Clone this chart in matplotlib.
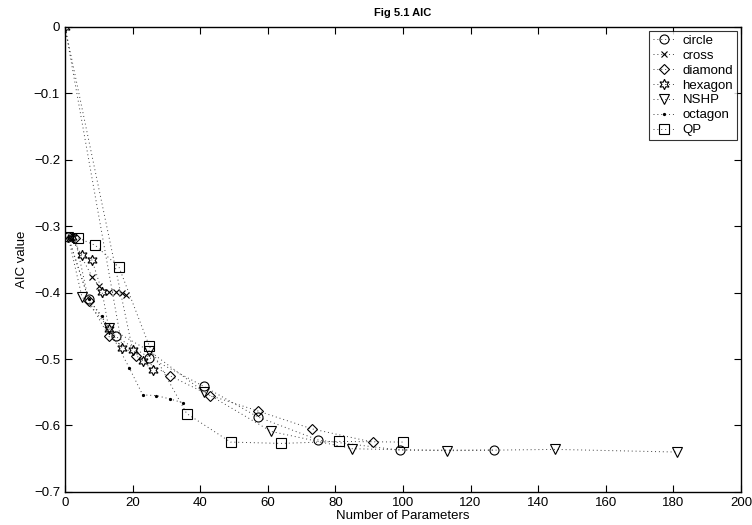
import matplotlib
matplotlib.use("Agg")
import matplotlib.pyplot as plt

plt.rcParams['font.family'] = ['Liberation Sans', 'DejaVu Sans']

# === Data ===
circle_x = [1, 7, 15, 25, 41, 57, 75, 99, 127]
circle_y = [-0.317, -0.410, -0.466, -0.498, -0.541, -0.587, -0.622, -0.637, -0.637]

cross_x = [2, 8, 10, 13, 15, 17, 18]
cross_y = [-0.318, -0.376, -0.390, -0.399, -0.399, -0.401, -0.404]

diamond_x = [3, 7, 13, 21, 31, 43, 57, 73, 91]
diamond_y = [-0.318, -0.412, -0.466, -0.495, -0.525, -0.555, -0.578, -0.605, -0.625]

hexagon_x = [2, 5, 8, 11, 13, 17, 0, 20, 23, 26]
hexagon_y = [-0.317, -0.344, -0.351, -0.399, -0.455, -0.484, 0.0, -0.486, -0.503, -0.517]

nshp_x = [1, 5, 13, 25, 41, 61, 85, 113, 145, 181]
nshp_y = [-0.317, -0.406, -0.453, -0.488, -0.549, -0.609, -0.635, -0.638, -0.636, -0.640]

octagon_x = [1, 7, 11, 19, 23, 27, 31, 35]
octagon_y = [-0.317, -0.410, -0.436, -0.513, -0.554, -0.555, -0.560, -0.566]

qp_x = [4, 9, 16, 25, 36, 49, 64, 81, 100]
qp_y = [-0.318, -0.329, -0.362, -0.481, -0.582, -0.625, -0.627, -0.624, -0.625]

series = [
    ('circle', circle_x, circle_y, 'o', 6.5),
    ('cross', cross_x, cross_y, 'x', 5),
    ('diamond', diamond_x, diamond_y, 'D', 5.5),
    ('hexagon', hexagon_x, hexagon_y, (6, 1, 0), 7.5),
    ('NSHP', nshp_x, nshp_y, 'v', 7.5),
    ('octagon', octagon_x, octagon_y, '.', 3),
    ('QP', qp_x, qp_y, 's', 6.5),
]

fig = plt.figure(figsize=(7.52, 5.25), dpi=100)
ax = fig.add_axes([0.0864, 0.063, 0.8989, 0.886])

for name, xs, ys, mk, ms in series:
    ax.plot(xs, ys, linestyle=(0, (1, 3)), color='0.25', linewidth=0.7,
            marker=mk, markersize=ms, markerfacecolor='none' if mk != '.' else 'k',
            markeredgecolor='k', markeredgewidth=0.8, label=name)

ax.set_xlim(0, 200)
ax.set_ylim(-0.7, 0)
ax.set_xticks(range(0, 201, 20))
ax.set_yticks([-0.7, -0.6, -0.5, -0.4, -0.3, -0.2, -0.1, 0])
ax.set_yticklabels(['\u22120.7', '\u22120.6', '\u22120.5', '\u22120.4', '\u22120.3',
                    '\u22120.2', '\u22120.1', '0'])
ax.tick_params(direction='in', top=True, right=True, labelsize=9.5, length=5, width=0.8)
for sp in ax.spines.values():
    sp.set_linewidth(1.0)

ax.set_xlabel('Number of Parameters', fontsize=9.5, labelpad=1)
ax.set_ylabel('AIC value', fontsize=9.5, labelpad=4)
ax.set_title('Fig 5.1 AIC', fontsize=8, fontweight='bold', pad=8)

leg = ax.legend(loc='upper right', fontsize=9.5, frameon=True, fancybox=False,
                edgecolor='k', handlelength=1.6, handletextpad=0.6,
                labelspacing=0.2, borderpad=0.3, borderaxespad=0.3)
leg.get_frame().set_linewidth(0.8)

fig.savefig('out.png', dpi=100)
